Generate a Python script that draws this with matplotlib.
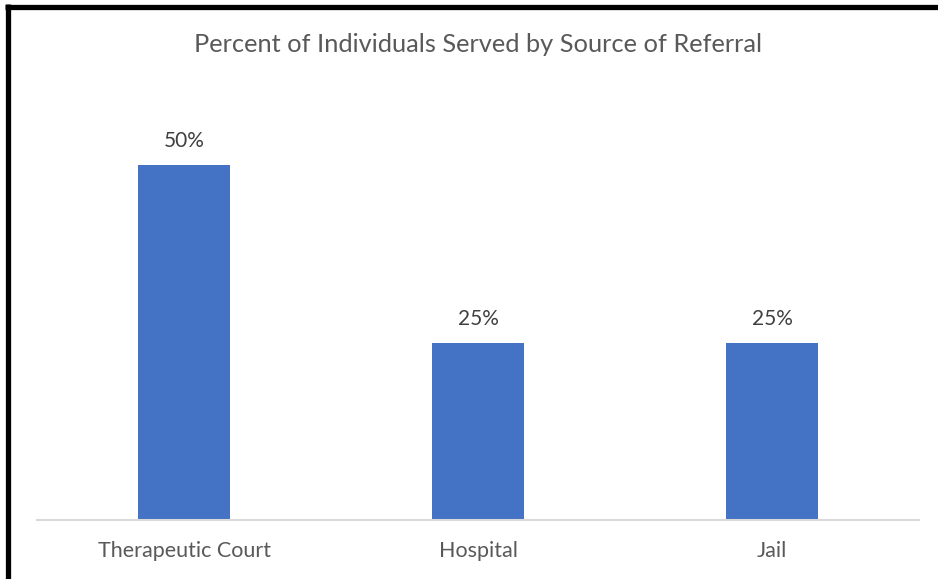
import matplotlib.pyplot as plt
from matplotlib.lines import Line2D

categories = ['Therapeutic Court', 'Hospital', 'Jail']
percents = [50, 25, 25]
labels = ['50%', '25%', '25%']

W, H = 938, 579
fig = plt.figure(figsize=(W / 100, H / 100), dpi=100)
plt.rcParams['font.family'] = ['Lato', 'DejaVu Sans']

# axes placed in pixel terms
ax = fig.add_axes([37 / W, (H - 520) / H, (919 - 37) / W, (520 - 100) / H])
x = range(len(categories))
bars = ax.bar(x, percents, width=0.313, color='#4472C4')
ax.set_xlim(-0.5, 2.5)
ax.set_ylim(0, 50 * 420 / 355)

for b, lab in zip(bars, labels):
    ax.annotate(lab, (b.get_x() + b.get_width() / 2, b.get_height()),
                xytext=(0, 10), textcoords='offset points',
                ha='center', va='bottom', fontsize=15, color='#404040')

ax.set_xticks(list(x))
ax.set_xticklabels(categories, fontsize=15.5, color='#595959')
ax.tick_params(axis='x', length=0, pad=15)
ax.set_yticks([])
for s in ['top', 'right', 'left']:
    ax.spines[s].set_visible(False)
ax.spines['bottom'].set_color('#D9D9D9')
ax.spines['bottom'].set_linewidth(1.5)

fig.text(478 / W, 1 - 45 / H, 'Percent of Individuals Served by Source of Referral',
         ha='center', va='center', fontsize=18.3, color='#595959')

# black frame on top and left edges
fig.add_artist(Line2D([5 / W, 1], [1 - 6.5 / H, 1 - 6.5 / H], color='black', lw=3.8,
                      transform=fig.transFigure, solid_capstyle='butt'))
fig.add_artist(Line2D([7.5 / W, 7.5 / W], [0, 1 - 4 / H], color='black', lw=3.8,
                      transform=fig.transFigure, solid_capstyle='butt'))

fig.savefig('out.png', dpi=100)
